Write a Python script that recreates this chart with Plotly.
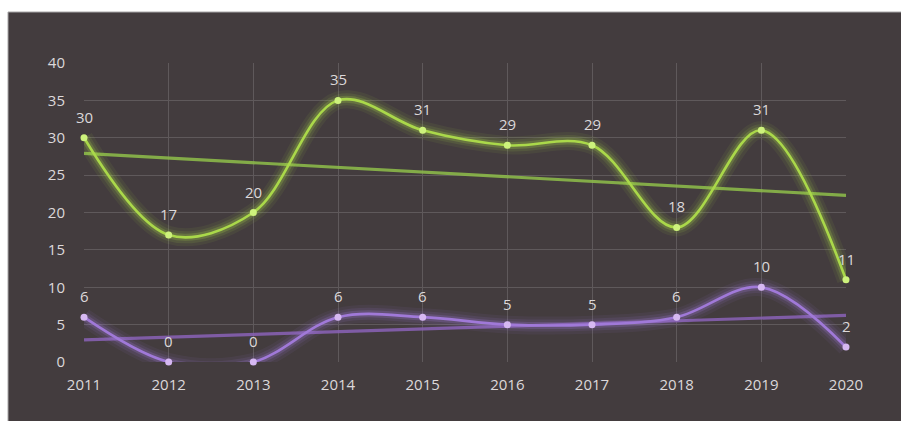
import numpy as np
import plotly.graph_objects as go

years = [2011, 2012, 2013, 2014, 2015, 2016, 2017, 2018, 2019, 2020]
green_values = [30, 17, 20, 35, 31, 29, 29, 18, 31, 11]
purple_values = [6, 0, 0, 6, 6, 5, 5, 6, 10, 2]
y_ticks = [0, 5, 10, 15, 20, 25, 30, 35, 40]

W, H = 901, 421
L, R, T, B = 84, 846, 63, 362

BG = "#433c3e"
GRID = "#5f595b"
TEXT = "#dcd8da"
FONT = "Open Sans, sans-serif"
FS = 15

series = [
    (green_values, "#aad84a", "#cdf27c", "#8fbf4a"),
    (purple_values, "#a079d8", "#d6b8f2", "#8a62b8"),
]

fig = go.Figure()

x_arr = np.array(years, dtype=float)
for values, line_col, marker_col, trend_col in series:
    # linear trend line through the series
    slope, intercept = np.polyfit(x_arr, np.array(values, dtype=float), 1)
    fig.add_trace(go.Scatter(
        x=[years[0], years[-1]],
        y=[slope * years[0] + intercept, slope * years[-1] + intercept],
        mode="lines", line=dict(color=trend_col, width=3.2),
        opacity=0.85, hoverinfo="skip", showlegend=False))

for values, line_col, marker_col, trend_col in series:
    # soft glow under the smoothed line
    for w, op in [(18, 0.07), (12, 0.11), (7, 0.22)]:
        fig.add_trace(go.Scatter(
            x=years, y=values, mode="lines",
            line=dict(color=line_col, width=w, shape="spline", smoothing=1.0),
            opacity=op, hoverinfo="skip", showlegend=False))
    fig.add_trace(go.Scatter(
        x=years, y=values, mode="lines+markers",
        line=dict(color=line_col, width=2.6, shape="spline", smoothing=1.0),
        marker=dict(size=7, color=marker_col, line=dict(width=0)),
        cliponaxis=False, showlegend=False))
    for xv, yv in zip(years, values):
        fig.add_annotation(
            x=xv, y=yv, text=str(yv), showarrow=False, yshift=21,
            font=dict(family=FONT, size=FS, color=TEXT))

# dark panel behind the chart
fig.add_shape(
    type="rect", xref="paper", yref="paper", layer="below",
    x0=(8 - L) / (R - L), x1=(W + 5 - L) / (R - L),
    y0=(B - (H + 5)) / (B - T), y1=(B - 12) / (B - T),
    fillcolor=BG, line=dict(color="#a8a6a7", width=1))

fig.update_layout(
    width=W, height=H,
    margin=dict(l=L, r=W - R, t=T, b=H - B),
    paper_bgcolor="white", plot_bgcolor="rgba(0,0,0,0)",
    font=dict(family=FONT, size=FS, color=TEXT),
    showlegend=False,
    xaxis=dict(
        range=[years[0], years[-1]], tickvals=years,
        ticktext=[str(y) for y in years],
        showgrid=True, gridcolor=GRID, gridwidth=1,
        zeroline=False, showline=False, ticks="",
        ticklabelstandoff=12, tickfont=dict(size=FS, color=TEXT)),
    yaxis=dict(
        range=[0, 40], tickvals=y_ticks,
        showgrid=True, gridcolor=GRID, gridwidth=1,
        zeroline=False, showline=False, ticks="",
        ticklabelstandoff=18, tickfont=dict(size=FS, color=TEXT)),
)

fig.write_html("out.html")
